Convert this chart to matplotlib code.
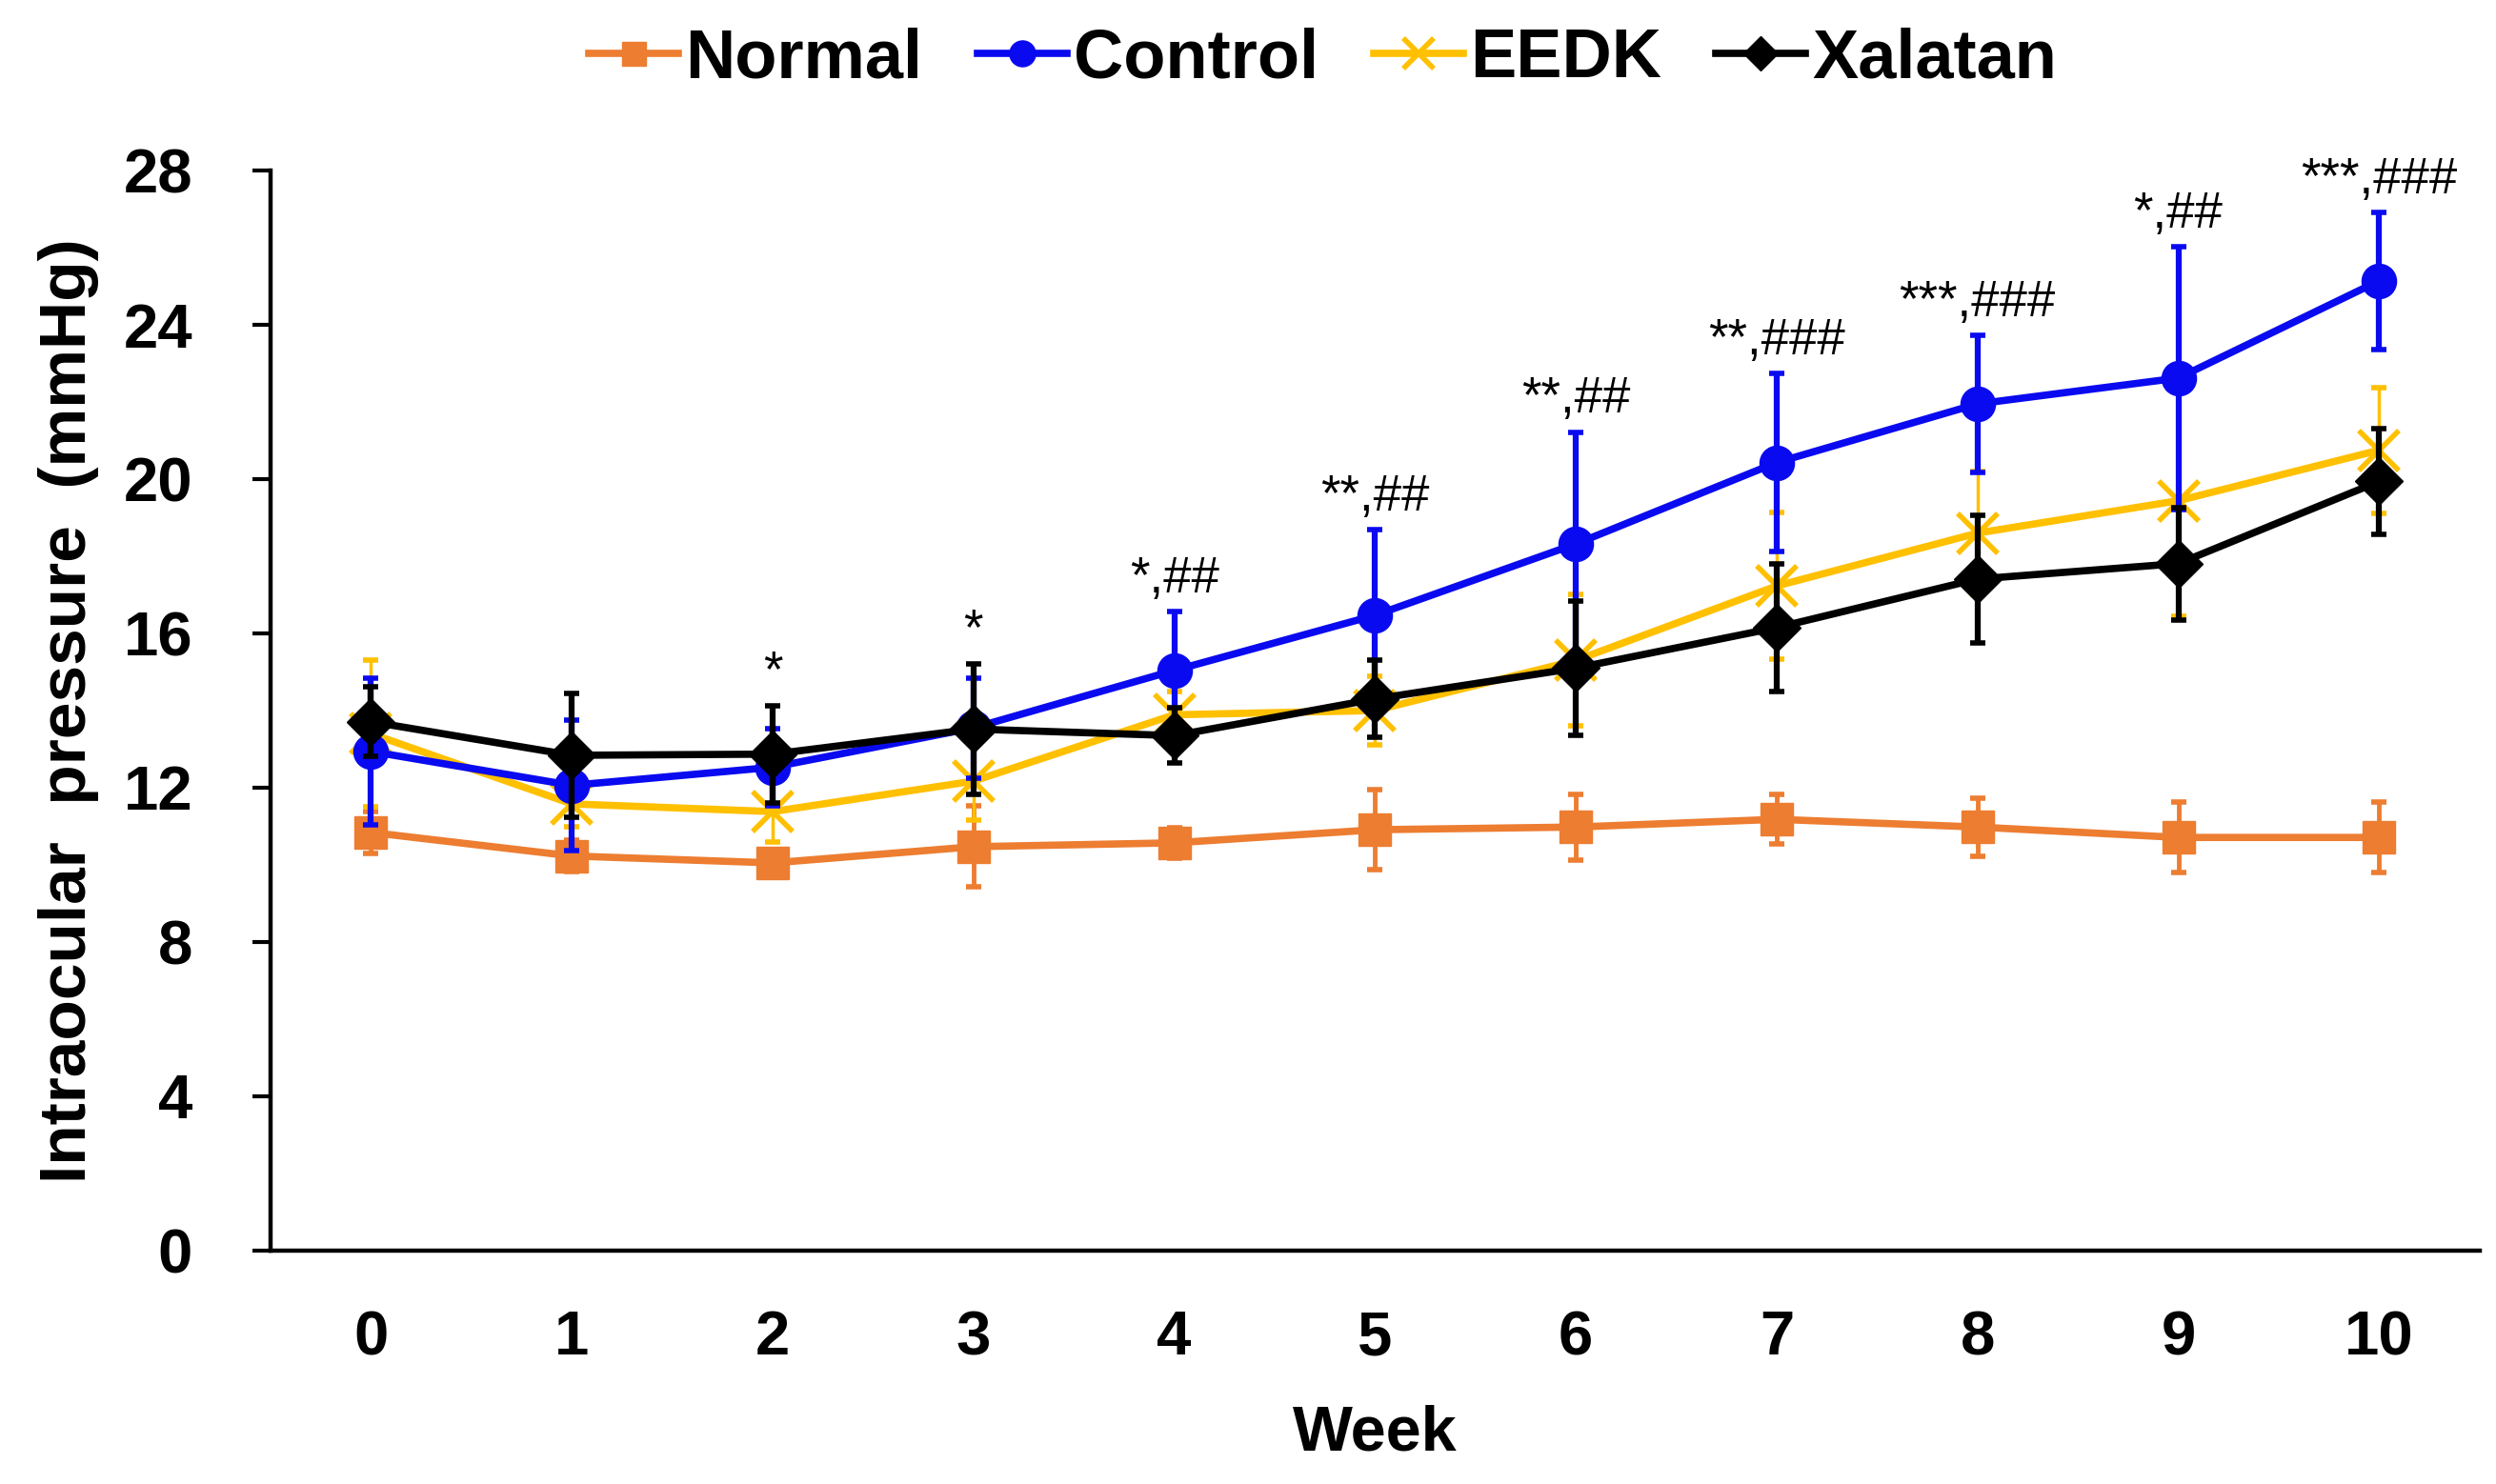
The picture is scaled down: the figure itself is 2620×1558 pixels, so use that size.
# plot.py
# Presión intraocular por semana (Normal, Control, EEDK, Xalatan)
import matplotlib
matplotlib.use("Agg")
import matplotlib.pyplot as plt

plt.rcParams["font.family"] = ["Liberation Sans", "DejaVu Sans"]

weeks = [0, 1, 2, 3, 4, 5, 6, 7, 8, 9, 10]

normal = [10.84, 10.23, 10.05, 10.47, 10.57, 10.91, 10.98, 11.18, 10.98, 10.71, 10.71]
normal_sd = [0.55, 0.4, 0.3, 1.05, 0.4, 1.04, 0.85, 0.65, 0.75, 0.92, 0.92]

control = [12.94, 12.06, 12.53, 13.55, 15.04, 16.47, 18.32, 20.43, 21.95, 22.62, 25.14]
control_sd = [1.9, 1.7, 1.0, 1.3, 1.52, 2.22, 2.9, 2.3, 1.78, 3.4, 1.77]

eedk = [13.4, 11.58, 11.38, 12.17, 13.89, 14.0, 15.3, 17.23, 18.6, 19.44, 20.75]
eedk_sd = [1.9, 0.6, 0.8, 1.0, 0.6, 0.9, 1.7, 1.9, 1.6, 3.0, 1.63]

xalatan = [13.71, 12.84, 12.87, 13.52, 13.35, 14.3, 15.1, 16.15, 17.41, 17.81, 19.94]
xalatan_sd = [0.9, 1.6, 1.26, 1.7, 0.72, 1.0, 1.75, 1.66, 1.65, 1.46, 1.37]

signif = ["", "", "*", "*", "*,##", "**,##", "**,##", "**,###", "***,###", "*,##", "***,###"]

# nombre, valores, sd, color, marcador, tamaño, grosor barra error, zorder
series = [
    ("Normal", normal, normal_sd, "#ED7D31", "s", 24, 3.5, 1),
    ("EEDK", eedk, eedk_sd, "#FFC000", "x", 30, 2.5, 2),
    ("Control", control, control_sd, "#0A0AF0", "o", 26, 4.5, 3),
    ("Xalatan", xalatan, xalatan_sd, "#000000", "D", 25, 4.5, 4),
]

fig = plt.figure(figsize=(26.2, 15.58), dpi=100)
ax = fig.add_axes([0.1084, 0.1573, 0.885, 0.7278])

handles = {}
for name, vals, sd, col, mk, ms, elw, z in series:
    ax.errorbar(weeks, vals, yerr=sd, fmt="none", ecolor=col, elinewidth=elw,
                capsize=6, capthick=4, zorder=z)
    ln, = ax.plot(weeks, vals, color=col, lw=5.5, marker=mk, markersize=ms,
                  mew=4 if mk == "x" else 1, mec=col, mfc=col, label=name, zorder=z + 0.5)
    handles[name] = ln

# anotaciones de significancia encima de la barra más alta
for i, txt in enumerate(signif):
    if not txt:
        continue
    top = max(v[i] + s[i] for _, v, s, *_ in series)
    ax.text(weeks[i], top + 0.85, txt, ha="center", va="center", fontsize=38, zorder=10)

ax.set_xlim(-0.5, 10.5)
ax.set_ylim(0, 28)
ax.set_yticks(range(0, 29, 4))
ax.set_xticks(weeks)
ax.spines["top"].set_visible(False)
ax.spines["right"].set_visible(False)
ax.spines["left"].set_linewidth(3.2)
ax.spines["bottom"].set_linewidth(3.2)
ax.tick_params(axis="y", length=14, width=3, pad=45, labelsize=47)
ax.tick_params(axis="x", length=0, pad=45, labelsize=47)
for lab in ax.get_xticklabels() + ax.get_yticklabels():
    lab.set_fontweight("bold")

ax.set_xlabel("Week", fontsize=48, fontweight="bold", labelpad=28)
ax.set_ylabel("Intraocular  pressure  (mmHg)", fontsize=50, fontweight="bold", labelpad=18)

order = ["Normal", "Control", "EEDK", "Xalatan"]
fig.legend([handles[n] for n in order], order, loc="center", bbox_to_anchor=(0.53, 0.96),
           ncol=4, frameon=False, handlelength=1.3, handletextpad=0.1, columnspacing=0.8,
           prop={"size": 52, "weight": "bold"}, markerscale=0.75)

fig.savefig("out.png", dpi=100)
